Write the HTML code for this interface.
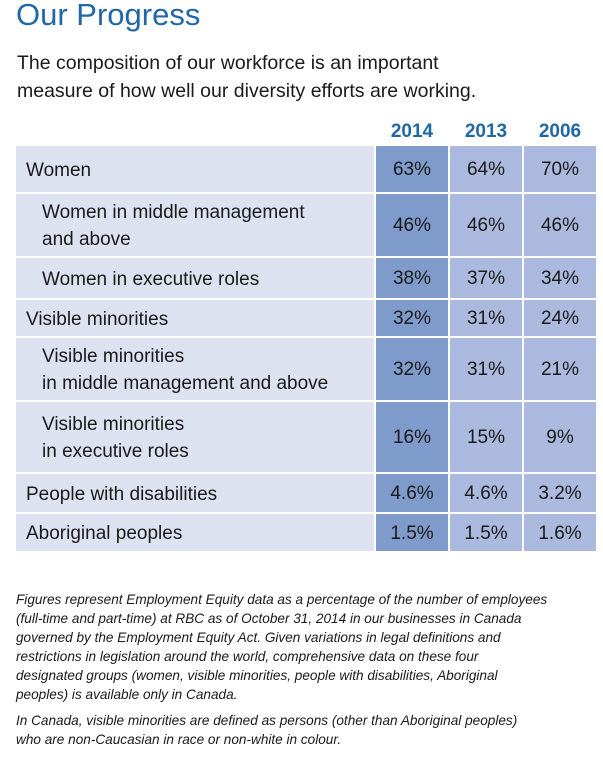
<!DOCTYPE html>
<html><head><meta charset="utf-8"><style>
body{margin:0;width:603px;height:758px;background:#fff;font-family:"Liberation Sans",sans-serif;position:relative;overflow:hidden;color:#1a1a1a}
.t{position:absolute;left:16px;top:-3px;font-size:31px;color:#1f67a6;margin:0;font-weight:normal}
.s{position:absolute;left:17px;top:49px;font-size:19.5px;line-height:28px;margin:0}
.yr{position:absolute;top:121px;font-size:19px;font-weight:bold;color:#1f67a6;text-align:center;width:72px}
.cell{position:absolute;display:flex;align-items:center;font-size:19px;box-sizing:border-box}
.lab{background:#dde2f1;padding-left:10px;line-height:27px}
.v{justify-content:center;padding-top:2px}
.c0{background:#7f9bcb}.c1,.c2{background:#aab9dd}
.f{position:absolute;left:16px;font-size:13.6px;font-style:italic;line-height:19px;margin:0;width:565px}
</style></head><body>
<h1 class="t">Our Progress</h1>
<p class="s">The composition of our workforce is an important<br>measure of how well our diversity efforts are working.</p>
<div class="yr" style="left:376px">2014</div>
<div class="yr" style="left:450px">2013</div>
<div class="yr" style="left:524px">2006</div>
<div id="tbl"></div>
<p class="f" style="top:590px">Figures represent Employment Equity data as a percentage of the number of employees<br>(full-time and part-time) at RBC as of October 31, 2014 in our businesses in Canada<br>governed by the Employment Equity Act. Given variations in legal definitions and<br>restrictions in legislation around the world, comprehensive data on these four<br>designated groups (women, visible minorities, people with disabilities, Aboriginal<br>peoples) is available only in Canada.</p>
<p class="f" style="top:711px">In Canada, visible minorities are defined as persons (other than Aboriginal peoples)<br>who are non-Caucasian in race or non-white in colour.</p>
<script>
const labels=["Women","Women in middle management<br>and above","Women in executive roles","Visible minorities","Visible minorities<br>in middle management and above","Visible minorities<br>in executive roles","People with disabilities","Aboriginal peoples"];
const indent=[0,1,1,0,1,1,0,0];
const v2014=["63%","46%","38%","32%","32%","16%","4.6%","1.5%"];
const v2013=["64%","46%","37%","31%","31%","15%","4.6%","1.5%"];
const v2006=["70%","46%","34%","24%","21%","9%","3.2%","1.6%"];
const rowEdges=[146,194,258,300,338,402,474,514,553];
const tbl=document.getElementById('tbl');
const cols=[[16,374],[376,448],[450,522],[524,596]];
const series=[v2014,v2013,v2006];
for(let i=0;i<labels.length;i++){
  const top=rowEdges[i],h=rowEdges[i+1]-rowEdges[i]-2;
  const l=document.createElement('div');
  
  
  l.className='cell lab';
  l.style.cssText=`left:${cols[0][0]}px;width:${cols[0][1]-cols[0][0]}px;top:${top}px;height:${h}px;padding-left:${indent[i]?26:10}px;padding-top:2px`;
  l.innerHTML=labels[i];tbl.appendChild(l);
  series.forEach((s,j)=>{
    const c=document.createElement('div');
    
    
    c.className='cell v c'+j;
    c.style.cssText=`left:${cols[j+1][0]}px;width:${cols[j+1][1]-cols[j+1][0]}px;top:${top}px;height:${h}px`;
    c.textContent=s[i];tbl.appendChild(c);
  });
}
</script>
</body></html>
